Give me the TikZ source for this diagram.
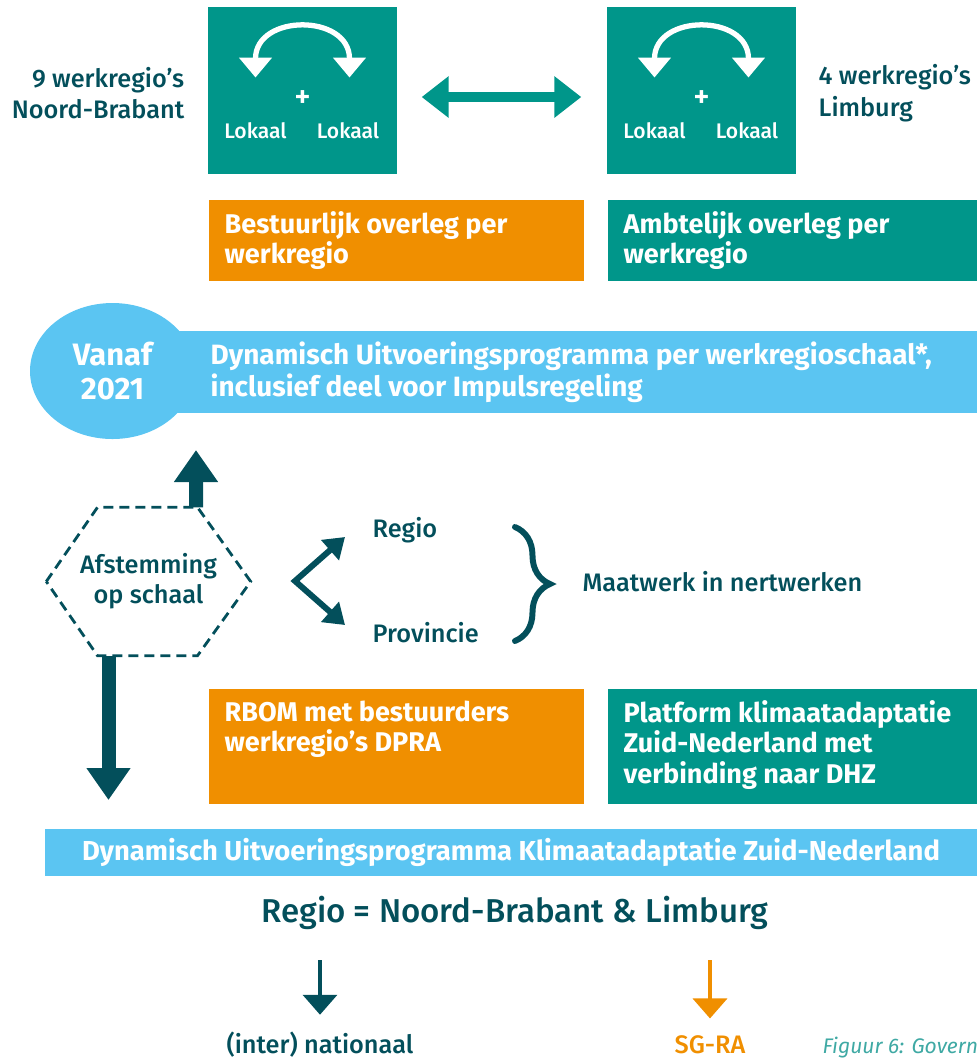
\documentclass[tikz,border=0pt]{standalone}
\usepackage{fontspec}
\setmainfont{Fira Sans}
\newfontfamily\moyen{Fira Sans Medium}
\usetikzlibrary{arrows.meta,positioning,calc,shapes.geometric,decorations.pathreplacing}

\definecolor{vert}{HTML}{00968A}
\definecolor{oranje}{HTML}{F08F00}
\definecolor{ciel}{HTML}{5BC5F2}
\definecolor{petrole}{HTML}{034F5B}
\definecolor{legende}{HTML}{3FA9A4}

\begin{document}
\begin{tikzpicture}[
    carre/.style={fill=vert, minimum width=1.89cm, minimum height=1.67cm, inner sep=0pt},
    boite/.style={minimum height=#1, inner sep=0pt, anchor=north west},
    texteboite/.style={anchor=north west, align=left, text=white,
        font=\fontsize{7.7}{8.6}\selectfont\bfseries, inner xsep=0.16cm, inner ysep=0.12cm},
    sombre/.style={text=petrole, inner sep=0pt, font=\moyen\fontsize{7.2}{9}\selectfont},
    grosse/.style={-{Triangle[length=0.32cm,width=0.42cm]}, line width=0.14cm, petrole},
    fine/.style={-{Triangle[length=0.2cm,width=0.34cm]}, line width=1.1pt},
]
\useasboundingbox (0,0) rectangle (9.77,-10.58);

\def \TailleLokaal {\moyen\fontsize{6}{6}\selectfont}
\def \Courbe {{Triangle[length=0.2cm,width=0.32cm]}-{Triangle[length=0.2cm,width=0.32cm]}}

% carres du haut
\node (carreG) [carre] at (3.025,-0.905) {};
\node (carreD) [carre] at (7.015,-0.905) {};
\foreach \c in {carreG,carreD}{
    \draw[white, line width=1.5pt, \Courbe]
        ($(\c.center)+(-0.47,0.13)$) .. controls +(0,0.64) and +(0,0.64) .. ($(\c.center)+(0.47,0.13)$);
    \node (\c plus) [text=white, font=\moyen\fontsize{9}{9}\selectfont] at ($(\c.center)+(0,-0.09)$) {+};
    \node (\c lokA) [text=white, font=\TailleLokaal] at ($(\c.center)+(-0.47,-0.405)$) {Lokaal};
    \node (\c lokB) [text=white, font=\TailleLokaal] at ($(\c.center)+(0.455,-0.405)$) {Lokaal};
}
\draw[vert, line width=0.1cm, {Triangle[length=0.27cm,width=0.4cm]}-{Triangle[length=0.27cm,width=0.4cm]},
    shorten <=0.24cm, shorten >=0.25cm] ([yshift=-0.065cm]carreG.east) -- ([yshift=-0.065cm]carreD.west);

\node (brabant) [sombre, anchor=east, align=right] at (1.85,-0.93) {9 werkregio’s\\Noord-Brabant};
\node (limburg) [sombre, anchor=west, align=left] at (8.18,-0.93) {4 werkregio’s\\Limburg};

% overleg
\node (bestuur) [boite=0.81cm, minimum width=3.75cm, fill=oranje] at (2.08,-1.99) {};
\node (bestuurtxt) [texteboite] at (bestuur.north west) {Bestuurlijk overleg per\\werkregio};
\node (ambt) [boite=0.81cm, minimum width=3.70cm, fill=vert] at (6.07,-1.99) {};
\node (ambttxt) [texteboite] at (ambt.north west) {Ambtelijk overleg per\\werkregio};

% programme par werkregio
\fill[ciel] (1.12,-3.31) rectangle (9.77,-4.13);
\node (vanaf) [ellipse, fill=ciel, minimum width=1.65cm, minimum height=1.36cm, align=center,
    text=white, font=\fontsize{8.8}{9.4}\selectfont\bfseries] at (1.125,-3.71) {Vanaf\\2021};
\node (dup) [anchor=west, align=left, inner sep=0pt, text=white, font=\fontsize{7.95}{9.1}\selectfont\bfseries]
    at (2.10,-3.72) {Dynamisch Uitvoeringsprogramma per werkregioschaal*,\\inclusief deel voor Impulsregeling};

% afstemming
\node (afst) [minimum width=2.03cm, minimum height=1.47cm, align=center, sombre,
    font=\moyen\fontsize{7.2}{8.6}\selectfont] at (1.485,-5.815) {Afstemming\\op schaal};
\draw[petrole, line width=0.8pt, dash pattern=on 0.1cm off 0.06cm]
    (afst.west) -- ($(afst.north)+(-0.51,0)$) -- ($(afst.north)+(0.49,0)$) -- (afst.east)
    -- ($(afst.south)+(0.49,0)$) -- ($(afst.south)+(-0.51,0)$) -- cycle;
\coordinate (haut) at (1.96,-4.50);
\coordinate (bas) at (1.085,-8.00);
\draw[grosse] ($(afst.north)+(0.475,0)$) -- (haut);
\draw[grosse] ($(afst.south)+(-0.40,0)$) -- (bas);

% regio / provincie
\node (regio) [sombre, anchor=west] at (3.72,-5.30) {Regio};
\node (provincie) [sombre, anchor=west] at (3.72,-6.33) {Provincie};
\coordinate (fourche) at (2.95,-5.81);
\draw[petrole, line width=1.7pt, {Triangle[length=0.2cm,width=0.26cm]}-{Triangle[length=0.2cm,width=0.26cm]}]
    ([shift={(-0.27,-0.07)}]regio.west) -- (fourche) -- ([shift={(-0.27,0.08)}]provincie.west);
\coordinate (acc1) at (5.15,-5.27);
\coordinate (acc2) at (5.15,-6.41);
\draw[petrole, line width=1.7pt, line cap=round, decorate, decoration={brace, amplitude=0.35cm}] (acc1) -- (acc2);
\node (maatwerk) [sombre, anchor=west] at (5.82,-5.82) {Maatwerk in nertwerken};

% RBOM et platform
\node (rbom) [boite=1.15cm, minimum width=3.75cm, fill=oranje] at (2.08,-6.88) {};
\node (rbomtxt) [texteboite] at (rbom.north west) {RBOM met bestuurders\\werkregio’s DPRA};
\node (platf) [boite=1.15cm, minimum width=3.70cm, fill=vert] at (6.07,-6.88) {};
\node (platftxt) [texteboite] at (platf.north west) {Platform klimaatadaptatie\\Zuid-Nederland met\\verbinding naar DHZ};

% programme Zuid-Nederland
\node (dupzn) [fill=ciel, minimum width=9.32cm, minimum height=0.47cm, inner sep=0pt, text=white,
    font=\fontsize{7.8}{8}\selectfont\bfseries] at (5.11,-8.525) {Dynamisch Uitvoeringsprogramma Klimaatadaptatie Zuid-Nederland};
\node (regline) [text=petrole, font=\moyen\fontsize{9.4}{10}\selectfont] at (5.15,-9.13) {Regio = Noord-Brabant \& Limburg};

% bas
\node (inter) [sombre, anchor=base] at (3.20,-10.53) {(inter) nationaal};
\node (sgra) [text=oranje, inner sep=0pt, anchor=base, font=\moyen\fontsize{7.2}{9}\selectfont] at (7.10,-10.53) {SG-RA};
\coordinate (d1) at (3.20,-9.60);
\coordinate (d2) at (7.10,-9.60);
\draw[fine, petrole, shorten >=0.16cm] (d1) -- (inter);
\draw[fine, oranje, shorten >=0.16cm] (d2) -- (sgra);
\node (figuur) [anchor=base west, inner sep=0pt, text=legende, font=\fontsize{6}{6}\selectfont\itshape] at (8.22,-10.53) {Figuur 6: Govern};
\end{tikzpicture}
\end{document}
